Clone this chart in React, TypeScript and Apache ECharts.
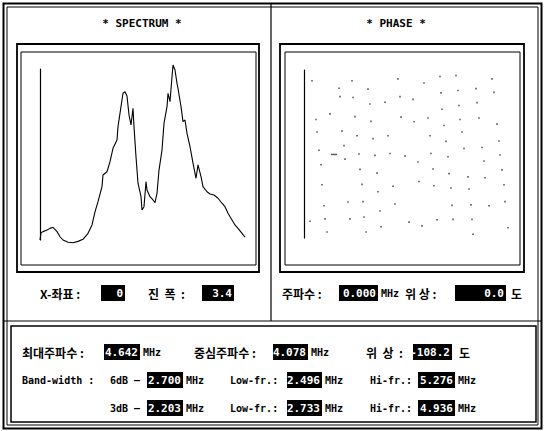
import React, { useEffect, useRef } from "react";
import * as echarts from "echarts";

// ---- Spectrum trace (X-좌표 bin index, relative amplitude %) ----
const spectrumBins = [0,1,3,7,10,13,17,20,23,28,33,38,43,48,52,55,58,62,63,67,70,73,77,78,81,83,85,87,89,91,93,94,96,98,101,102,104,106,107,110,113,115,117,119,122,124,127,128,130,132,133,135,137,138,141,143,145,147,150,153,156,158,161,163,167,170,174,178,182,185,188,192,195,198,202,205];
const spectrumAmp = [0,4.3,4.9,5.8,6.8,7.4,4.9,1.9,0,-1.3,-1.6,-0.8,0.4,3.9,8.8,16.5,22.4,31.2,38.0,39.9,45.8,53.6,58.5,66.3,78.0,85.8,86.7,84.2,73.1,67.3,77.0,66.3,48.7,33.2,25.3,17.5,19.5,34.1,29.2,25.3,23.4,21.8,27.3,40.9,52.6,68.2,78.0,85.8,80.9,95.5,102.3,99.4,91.6,88.7,78.0,69.2,70.2,62.4,54.6,44.9,36.1,43.9,37.0,31.2,28.2,26.9,26.3,24.4,21.5,19.5,15.6,11.7,8.8,6.8,3.9,1.6];

// ---- Phase scatter (bin index, degrees) ----
const phaseBins = [8,48,94,35,64,36,49,96,109,66,81,26,12,51,97,67,110,13,38,53,69,84,40,15,30,55,71,86,101,41,17,56,73,18,58,89,74,20,44,59,91,76,6,21,46,60,105,77,23,62,
  120,136,152,188,137,154,172,190,138,155,173,124,140,156,175,193,126,158,142,195,160,178,127,144,196,114,180,129,145,164,181,198,115,130,147,165,200,148,167,185,201,133,149,168,118,204,169];
const phaseDeg = [157,157,161,141,139,123,121,123,117,107,111,86,74,80,79,70,69,47,49,39,33,39,18,8,-1,0,-3,1,-4,-11,-23,-33,-41,-66,-65,-69,-81,-111,-103,-102,-107,-122,-144,-139,-139,-135,-146,-156,-167,-167,
  152,166,168,161,131,136,140,132,96,104,110,77,61,74,77,64,39,47,27,28,12,14,1,-6,-2,-17,-15,-32,-42,-49,-51,-34,-59,-68,-73,-75,-66,-110,-109,-111,-102,-141,-140,-140,-154,-158,-172];
const phaseCursorIndex = 24;

// ---- Readouts ----
const spectrumTitle = "* SPECTRUM *";
const phaseTitle = "* PHASE *";
const xCoord = "0";
const amplitude = "3.4";
const cursorFreq = "0.000";
const cursorPhase = "0.0";
const maxFreq = "4.642";
const centerFreq = "4.078";
const phaseAtMax = "-108.2";
const bw6 = "2.700";
const bw6Low = "2.496";
const bw6Hi = "5.276";
const bw3 = "2.203";
const bw3Low = "2.733";
const bw3Hi = "4.936";

const MONO = "bold 11px 'DejaVu Sans Mono', 'Noto Sans CJK KR', monospace";
const KOR = "bold 12px 'Noto Sans CJK KR', 'DejaVu Sans Mono', sans-serif";
const SMALL = "bold 10px 'DejaVu Sans Mono', monospace";

function txt(x: number, y: number, text: string, font: string = MONO, fill = "#000", align = "left") {
  return {
    type: "text",
    silent: true,
    style: { text, x, y, fill, font, textAlign: align, textVerticalAlign: "middle", verticalAlign: "middle" },
  };
}

function box(x1: number, x2: number, y: number, value: string) {
  return [
    { type: "rect", silent: true, shape: { x: x1, y: y - 8, width: x2 - x1, height: 16 }, style: { fill: "#000" } },
    txt(x2 - 2, y, value, MONO, "#fff", "right"),
  ];
}

function frame(x: number, y: number, w: number, h: number, lw: number) {
  return { type: "rect", silent: true, shape: { x, y, width: w, height: h }, style: { fill: "none", stroke: "#000", lineWidth: lw } };
}

function line(x1: number, y1: number, x2: number, y2: number, lw: number) {
  return { type: "line", silent: true, shape: { x1, y1, x2, y2 }, style: { stroke: "#000", lineWidth: lw } };
}

export default function App() {
  const ref = useRef<HTMLDivElement>(null);
  useEffect(() => {
    if (!ref.current) return;
    const chart = echarts.init(ref.current, undefined, { renderer: "svg" });
    const hidden = { show: false };
    const yAxisLine = { show: true, lineStyle: { color: "#000", width: 1.2 } };

    const rowA = 293;
    const r1 = 352, r2 = 380, r3 = 408;

    const graphic: any[] = [
      // page borders
      frame(3.5, 3.5, 538, 425, 2),
      frame(7, 7, 531, 418, 1),
      line(271, 4, 271, 321, 1.2),
      line(4, 321, 541, 321, 1.2),
      frame(11, 326, 525, 96, 1.5),
      // plot frames
      frame(17, 44, 242, 228, 1.8),
      frame(21, 52, 235, 213, 1),
      frame(280, 44, 244, 228, 1.8),
      frame(285, 52, 235, 213, 1),
      // titles
      txt(142, 23, spectrumTitle, MONO, "#000", "center"),
      txt(396, 23, phaseTitle, MONO, "#000", "center"),
      // spectrum readout
      txt(40, rowA, "X-좌표 :", KOR),
      ...box(101, 125, rowA, xCoord),
      txt(148, rowA, "진  폭  :", KOR),
      ...box(202, 234, rowA, amplitude),
      // phase readout
      txt(282, rowA, "주파수 :", KOR),
      ...box(339, 378, rowA, cursorFreq),
      txt(381, rowA, "MHz", SMALL),
      txt(405, rowA, "위 상 :", KOR),
      ...box(455, 506, rowA, cursorPhase),
      txt(511, rowA, "도", KOR),
      // bottom row 1
      txt(22, r1, "최대주파수 :", KOR),
      ...box(104, 140, r1, maxFreq),
      txt(143, r1, "MHz", SMALL),
      txt(194, r1, "중심주파수 :", KOR),
      ...box(273, 308, r1, centerFreq),
      txt(311, r1, "MHz", SMALL),
      txt(366, r1, "위  상  :", KOR),
      ...box(413, 452, r1, phaseAtMax),
      txt(459, r1, "도", KOR),
      // bottom row 2
      txt(22, r2, "Band-width :", SMALL),
      txt(110, r2, "6dB –", SMALL),
      ...box(147, 183, r2, bw6),
      txt(186, r2, "MHz", SMALL),
      txt(230, r2, "Low-fr.:", SMALL),
      ...box(287, 322, r2, bw6Low),
      txt(325, r2, "MHz", SMALL),
      txt(370, r2, "Hi-fr.:", SMALL),
      ...box(418, 455, r2, bw6Hi),
      txt(458, r2, "MHz", SMALL),
      // bottom row 3
      txt(110, r3, "3dB –", SMALL),
      ...box(147, 183, r3, bw3),
      txt(186, r3, "MHz", SMALL),
      txt(230, r3, "Low-fr.:", SMALL),
      ...box(287, 322, r3, bw3Low),
      txt(325, r3, "MHz", SMALL),
      txt(370, r3, "Hi-fr.:", SMALL),
      ...box(418, 455, r3, bw3Hi),
      txt(458, r3, "MHz", SMALL),
    ];

    const phaseData = phaseBins.map((b, i) =>
      i === phaseCursorIndex
        ? { value: [b, phaseDeg[i]], symbol: "rect", symbolSize: [6, 1.5] }
        : { value: [b, phaseDeg[i]] }
    );

    chart.setOption({
      animation: false,
      backgroundColor: "#fff",
      grid: [
        { left: 40, top: 69, width: 205, height: 171 },
        { left: 304, top: 70, width: 210, height: 168 },
      ],
      xAxis: [
        { type: "value", gridIndex: 0, min: 0, max: 205, axisLine: hidden, axisTick: hidden, axisLabel: hidden, splitLine: hidden },
        { type: "value", gridIndex: 1, min: 0, max: 210, axisLine: hidden, axisTick: hidden, axisLabel: hidden, splitLine: hidden },
      ],
      yAxis: [
        { type: "value", gridIndex: 0, min: 0, max: 100, axisLine: yAxisLine, axisTick: hidden, axisLabel: hidden, splitLine: hidden },
        { type: "value", gridIndex: 1, min: -180, max: 180, axisLine: yAxisLine, axisTick: hidden, axisLabel: hidden, splitLine: hidden },
      ],
      series: [
        {
          type: "line",
          xAxisIndex: 0,
          yAxisIndex: 0,
          data: spectrumBins.map((b, i) => [b, spectrumAmp[i]]),
          showSymbol: false,
          clip: false,
          lineStyle: { color: "#000", width: 1.1 },
          silent: true,
        },
        {
          type: "scatter",
          xAxisIndex: 1,
          yAxisIndex: 1,
          data: phaseData,
          symbol: "rect",
          symbolSize: 1.6,
          itemStyle: { color: "#333" },
          silent: true,
        },
      ],
      graphic,
    });
    return () => chart.dispose();
  }, []);

  return (
    <div
      ref={ref}
      style={{ position: "fixed", left: 0, top: 0, width: 544, height: 431, background: "#fff" }}
    />
  );
}
